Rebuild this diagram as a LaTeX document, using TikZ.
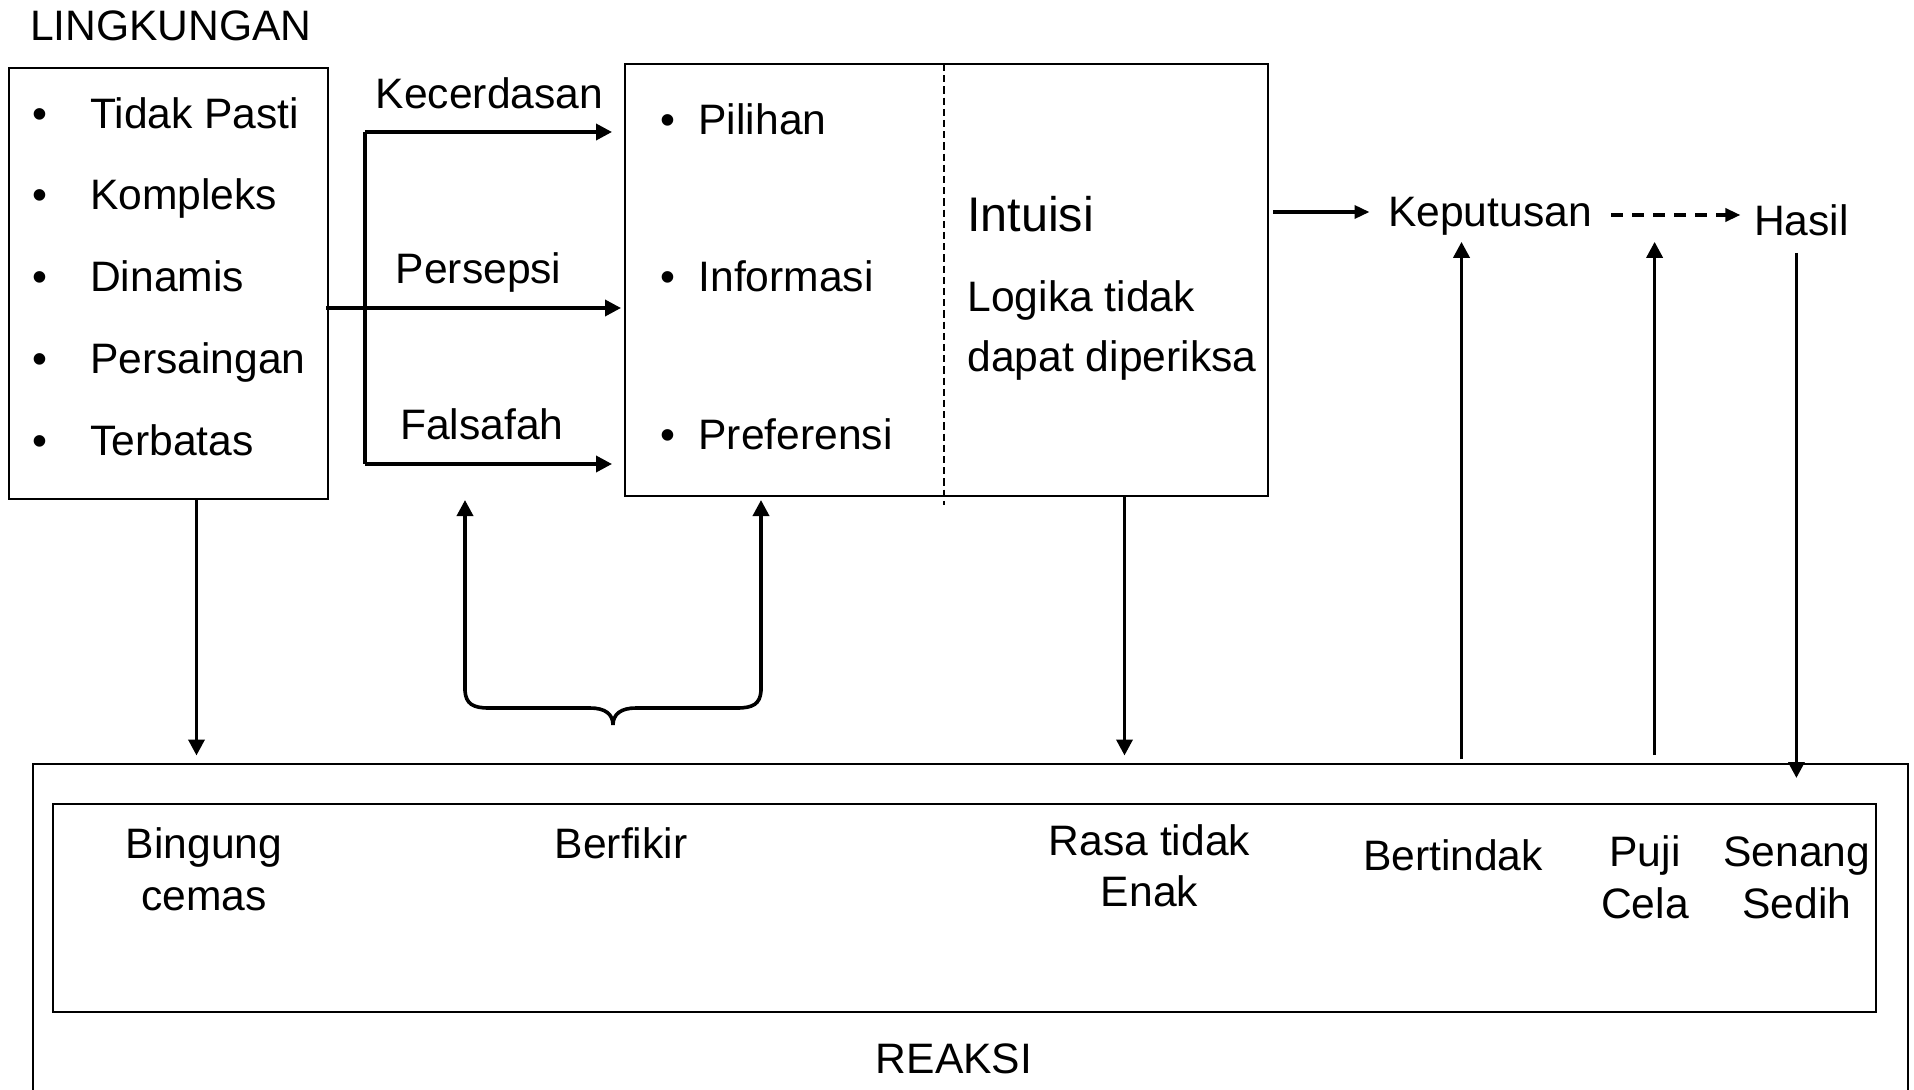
\documentclass[tikz,border=0pt]{standalone}
\usepackage{fontspec}
\setmainfont{Liberation Sans}
\usetikzlibrary{arrows.meta}
\begin{document}
\begin{tikzpicture}[x=0.5pt,y=-0.5pt,
  txt/.style={inner sep=0pt, outer sep=0pt, font=\fontsize{21.3}{26}\selectfont},
  bigtxt/.style={inner sep=0pt, outer sep=0pt, font=\fontsize{24.3}{29}\selectfont},
  box/.style={draw, line width=1pt, inner sep=0pt, outer sep=0pt},
  arr/.style={line width=1.8pt, -{Triangle[length=8pt,width=8pt]}},
  arrs/.style={line width=1.7pt, -{Triangle[length=7.5pt,width=6.5pt]}},
  darr/.style={line width=1.7pt, dash pattern=on 6pt off 4.5pt, -{Triangle[length=7.5pt,width=6.5pt]}},
  dline/.style={line width=0.6pt, dash pattern=on 3.6pt off 2pt},
  plain/.style={line width=1.8pt}
]
\useasboundingbox (0,0) rectangle (1914,1090);
\clip (0,0) rectangle (1914,1090);

% boxes
\node[box, anchor=north west, minimum width=159.75pt, minimum height=215.5pt] (lbox) at (8.5,68) {};
\node[box, anchor=north west, minimum width=321.75pt, minimum height=216pt] (mbox) at (624.5,64) {};
\node[box, anchor=north west, minimum width=937.75pt, minimum height=200pt] (rbox) at (32.5,763.5) {};
\node[box, anchor=north west, minimum width=911.75pt, minimum height=104pt] (ibox) at (52.5,803.5) {};

% dashed divider
\coordinate (dtop) at (944,64);
\coordinate (dbot) at (944,505);
\draw[dline] (dtop) -- (dbot);

% left box texts
\node[txt, anchor=base west] (ling) at (30,40.7) {LINGKUNGAN};
\node[txt, anchor=base west] (i1) at (32.6,128.3) {\makebox[28.8pt][l]{•}Tidak Pasti};
\node[txt, anchor=base west] (i2) at (32.6,210) {\makebox[28.8pt][l]{•}Kompleks};
\node[txt, anchor=base west] (i3) at (32.6,292) {\makebox[28.8pt][l]{•}Dinamis};
\node[txt, anchor=base west] (i4) at (32.6,374) {\makebox[28.8pt][l]{•}Persaingan};
\node[txt, anchor=base west] (i5) at (32.6,455) {\makebox[28.8pt][l]{•}Terbatas};

% arrow labels
\node[txt, anchor=base] (kec) at (489.5,108.3) {Kecerdasan};
\node[txt, anchor=base] (per) at (478.6,284) {Persepsi};
\node[txt, anchor=base] (fal) at (481.8,440) {Falsafah};

% middle box texts
\node[txt, anchor=base west] (m1) at (660.6,134.3) {\makebox[19pt][l]{•}Pilihan};
\node[txt, anchor=base west] (m2) at (660.6,291.7) {\makebox[19pt][l]{•}Informasi};
\node[txt, anchor=base west] (m3) at (660.6,450) {\makebox[19pt][l]{•}Preferensi};
\node[bigtxt, anchor=base west] (intu) at (967,231.7) {Intuisi};
\node[txt, anchor=base west] (log1) at (967.5,311.7) {Logika tidak};
\node[txt, anchor=base west] (log2) at (967.5,371.7) {dapat diperiksa};

% right texts
\node[txt, anchor=base west] (kep) at (1388,227) {Keputusan};
\node[txt, anchor=base west] (has) at (1754,235.4) {Hasil};

% bottom texts
\node[txt, anchor=base] (bing1) at (204,858.3) {Bingung};
\node[txt, anchor=base] (bing2) at (204,910) {cemas};
\node[txt, anchor=base] (berf) at (621,858) {Berfikir};
\node[txt, anchor=base] (rasa1) at (1149.5,855) {Rasa tidak};
\node[txt, anchor=base] (rasa2) at (1149.5,906.7) {Enak};
\node[txt, anchor=base] (bert) at (1453,870) {Bertindak};
\node[txt, anchor=base] (puji) at (1645,866.7) {Puji};
\node[txt, anchor=base] (cela) at (1645,918.3) {Cela};
\node[txt, anchor=base] (sen) at (1796.7,866.7) {Senang};
\node[txt, anchor=base] (sed) at (1796.7,918.3) {Sedih};
\node[txt, anchor=base] (reaksi) at (954,1073) {REAKSI};

% fork arrows into middle box
\coordinate (kA) at (365,132);
\coordinate (kB) at (365,464);
\coordinate (pA) at (326,308);
\draw[plain] (kA) -- (kB);
\draw[arr, shorten >=6.25pt] (kA) -- (kA -| mbox.west);
\draw[arr, shorten >=6.25pt] (kB) -- (kB -| mbox.west);
\draw[arr, shorten >=1.75pt] (pA) -- (pA -| mbox.west);

% brace with arrows
\coordinate (bL) at (465,691);
\coordinate (bR) at (761,691);
\draw[arr, shorten >=2pt] (bL) -- (bL |- mbox.south);
\draw[arr, shorten >=2pt] (bR) -- (bR |- mbox.south);
\draw[plain] (bL) .. controls (466,704) and (473,708) .. (489,708) -- (590,708)
  .. controls (605,708) and (613,714) .. (613,725)
  .. controls (613,714) and (621,708) .. (636,708) -- (737,708)
  .. controls (753,708) and (760,704) .. (bR);

% down arrows to REAKSI
\coordinate (lA) at (196.5,499);
\coordinate (mA) at (1124.5,496);
\draw[arr, shorten >=4pt] (lA) -- (lA |- rbox.north);
\draw[arr, shorten >=4pt] (mA) -- (mA |- rbox.north);

% Keputusan and Hasil
\coordinate (kpA) at (1273,212);
\coordinate (dA) at (1611,215);
\draw[arrs, shorten >=9.25pt] (kpA) -- (kpA -| kep.west);
\draw[darr, shorten >=6.8pt] (dA) -- (dA -| has.west);

% up/down arrows on the right
\coordinate (u1) at (1461.5,759);
\coordinate (u2) at (1654.6,755);
\coordinate (hA) at (1796.4,253);
\coordinate (hB) at (1796.4,778);
\draw[arr, shorten >=3pt] (u1) -- (u1 |- kep.south);
\draw[arr, shorten >=3pt] (u2) -- (u2 |- kep.south);
\draw[arr] (hA) -- (hB);
\end{tikzpicture}
\end{document}
